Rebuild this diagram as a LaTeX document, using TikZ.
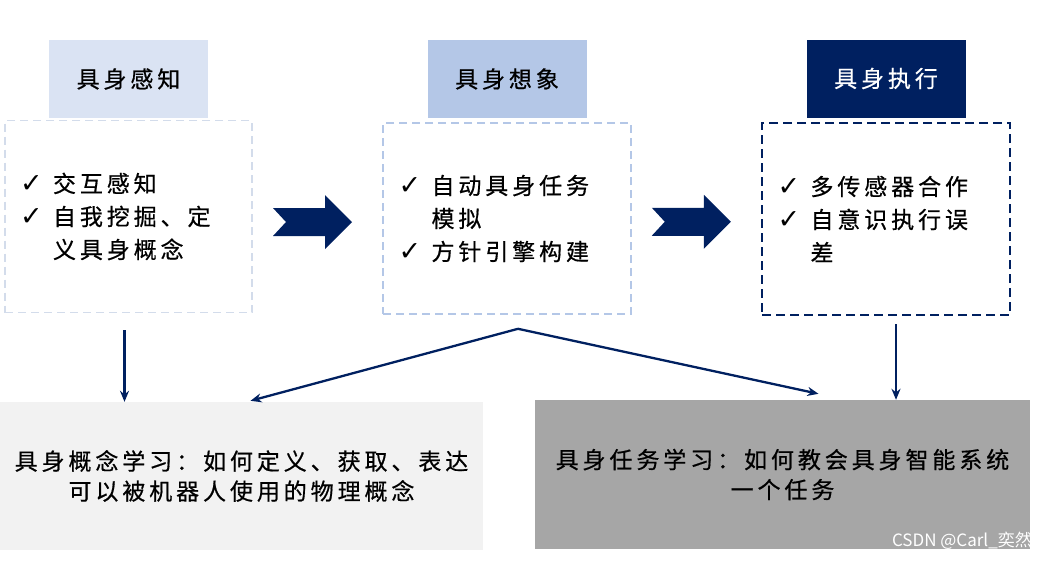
\documentclass[tikz,border=0pt]{standalone}
\usepackage{fontspec}
\usetikzlibrary{calc,arrows.meta}
\newfontfamily\cjk[LetterSpace=17,FakeBold=0.6]{Noto Sans CJK SC}
\newfontfamily\markfont{Noto Sans CJK SC}
\newfontfamily\symfont{DejaVu Sans}
\definecolor{navy}{HTML}{002060}
\definecolor{hdrA}{HTML}{DAE3F3}
\definecolor{dashA}{HTML}{D3DCEB}
\definecolor{hdrB}{HTML}{B4C7E7}
\definecolor{dashB}{HTML}{B4C7E7}
\definecolor{paleGrey}{HTML}{F2F2F2}
\definecolor{midGrey}{HTML}{A6A6A6}
\newcommand{\tick}{\makebox[33pt][l]{\symfont\bfseries\fontsize{27}{20}\selectfont ✓}}
\newcommand{\cont}{\makebox[33pt]{}}
\tikzset{
  head/.style={minimum width=159pt, minimum height=78pt, inner sep=0pt,
    font=\cjk\fontsize{23}{30}\selectfont},
  card/.style={minimum width=247pt, minimum height=192pt, inner sep=0pt,
    text width=217pt, align=left, line width=1.6pt, dash pattern=on 8pt off 5pt,
    font=\cjk\fontsize{23}{33}\selectfont},
  goal/.style={minimum height=148pt, inner sep=0pt, align=center,
    font=\cjk\fontsize{23}{30}\selectfont},
  link/.style={navy, line width=2.3pt, -{Stealth[length=11pt,width=9pt]}}
}
\begin{document}
\begin{tikzpicture}[x=1pt,y=-1pt]
\useasboundingbox (0,0) rectangle (1041,560);

% three stages
\node[head, fill=hdrA] (percA) at (128.5,79) {具身感知};
\node[card, draw=dashA] (listA) at (128.5,216.5) {\tick 交互感知\\ \tick 自我挖掘、定\\ \cont 义具身概念};

\node[head, fill=hdrB] (percB) at (507,79) {具身想象};
\node[card, draw=dashB, minimum width=248pt, minimum height=191pt] (listB) at (507,218.5) {\tick 自动具身任务\\ \cont 模拟\\ \tick 方针引擎构建};

\node[head, fill=navy, text=white] (percC) at (886,78.5) {具身执行};
\node[card, draw=navy, line width=2.4pt, dash pattern=on 9pt off 5pt, minimum width=248pt] (listC) at (886,219) {\tick 多传感器合作\\ \tick 自意识执行误\\ \cont 差};

% big chevrons
\coordinate (midAB) at ($(listA.east)!0.5!(listB.west)+(-5,4.5)$);
\coordinate (midBC) at ($(listB.east)!0.5!(listC.west)+(-5,3)$);
\fill[navy] (midAB) ++(-39.5,-14) -- ++(52,0) -- ++(0,-13) -- ++(27,27) -- ++(-27,27) -- ++(0,-13) -- ++(-52,0) -- ++(13,-14) -- cycle;
\fill[navy] (midBC) ++(-39.5,-14) -- ++(52,0) -- ++(0,-13) -- ++(27,27) -- ++(-27,27) -- ++(0,-13) -- ++(-52,0) -- ++(13,-14) -- cycle;

% learning goals
\node[goal, fill=paleGrey, minimum width=483pt] (concept) at (241.5,476) {具身概念学习：如何定义、获取、表达\\可以被机器人使用的物理概念};
\node[goal, fill=midGrey, minimum width=495pt, minimum height=149pt] (task) at (782.5,474.5) {具身任务学习：如何教会具身智能系统\\一个任务};
\node[font=\markfont\fontsize{17}{17}\selectfont, text=white, anchor=east, inner sep=0pt] (mark) at (1032,541) {CSDN @Carl\_奕然};

% links
\coordinate (dropA) at ($(listA.south)+(-4,17)$);
\coordinate (dropC) at ($(listC.south)+(10,8)$);
\coordinate (split) at ($(listB.south)+(11,14)$);
\draw[link] (dropA) -- (dropA |- concept.north);
\draw[link] (dropC) -- (dropC |- task.north);
\draw[link] (split) -- ($(concept.north)+(9,-1)$);
\draw[link] (split) -- ($(task.north)+(36,-6)$);
\end{tikzpicture}
\end{document}
